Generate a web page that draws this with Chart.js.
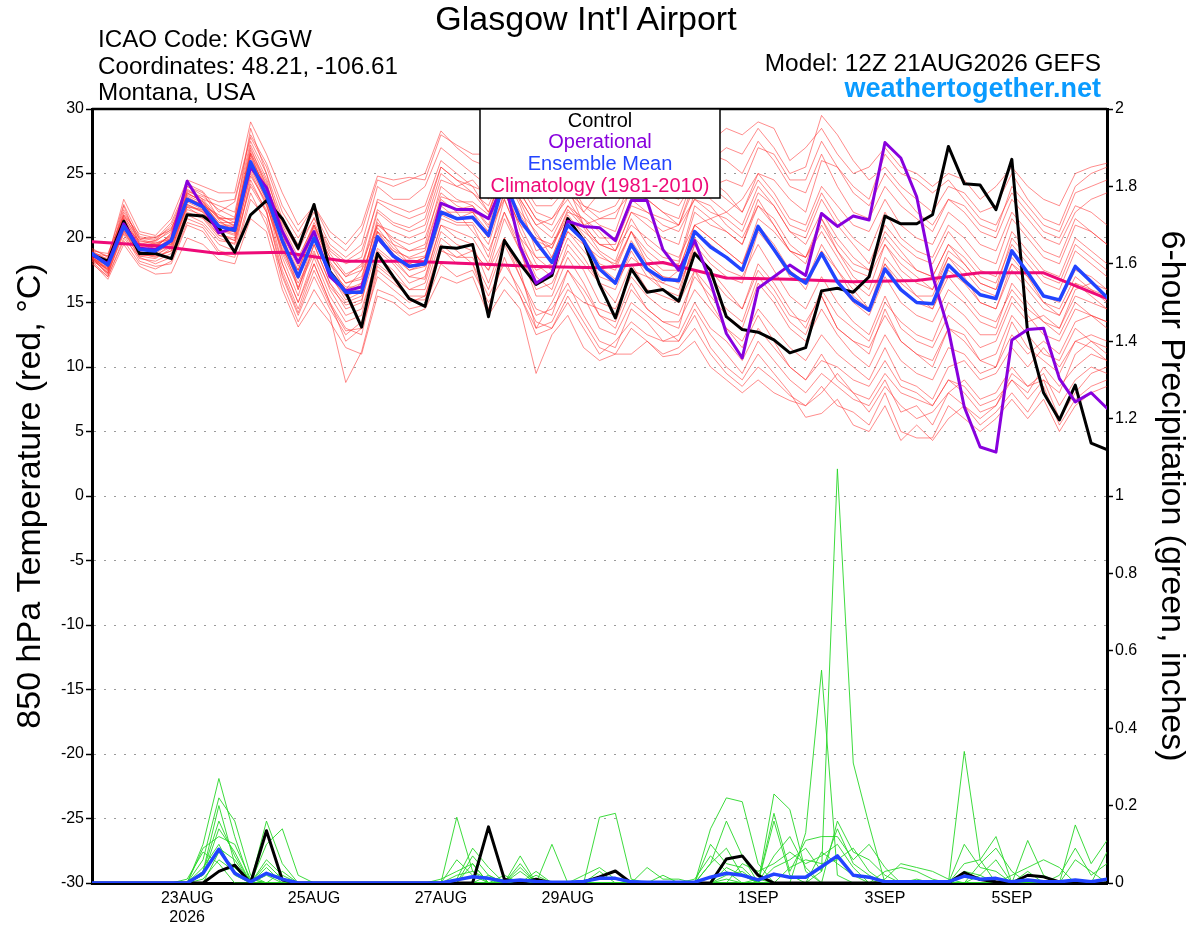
<!DOCTYPE html>
<html>
<head>
<meta charset="utf-8">
<title>Glasgow Int'l Airport - GEFS</title>
<script src="https://cdn.jsdelivr.net/npm/chart.js@4.4.1/dist/chart.umd.min.js"></script>
<style>
  body { margin: 0; background: #fff; font-family: "Liberation Sans", Arial, sans-serif; }
  #wrap { position: relative; width: 1200px; height: 927px; }
  #chart { position: absolute; left: 0; top: 0; }
  .t { position: absolute; white-space: nowrap; line-height: 1; color: #000; }
  #title { left: 0; width: 1172px; text-align: center; top: 1px; font-size: 34px; }
  .info { left: 98px; font-size: 24.2px; }
  .model { right: 99px; font-size: 24.4px; }
  #site { right: 99px; top: 75px; font-size: 27px; font-weight: bold; color: #0a9bff; }
</style>
</head>
<body>
<div id="wrap">
  <canvas id="chart" width="1200" height="927"></canvas>
  <div class="t" id="title">Glasgow Int'l Airport</div>
  <div class="t info" style="top:27px">ICAO Code: KGGW</div>
  <div class="t info" style="top:54px">Coordinates: 48.21, -106.61</div>
  <div class="t info" style="top:80px">Montana, USA</div>
  <div class="t model" style="top:51px">Model: 12Z 21AUG2026 GEFS</div>
  <div class="t" id="site">weathertogether.net</div>
</div>
<script>
// forecast hours from 12Z 21AUG2026, every 6 hours out to 384h
const HOURS = Array.from({ length: 65 }, (_, i) => i * 6);
const CLIMO_HOURS = [0, 24, 48, 72, 96, 120, 144, 168, 192, 216, 240, 264, 288, 312, 336, 360, 384];
const TICK_HOURS = [36, 84, 132, 180, 252, 300, 348];
const TICK_LABELS = [["23AUG", "2026"], "25AUG", "27AUG", "29AUG", "1SEP", "3SEP", "5SEP"];

// 850 hPa temperature (C)
const ensMean = [
  18.8, 17.9, 20.9, 19.1, 19.0, 19.8, 23.0, 22.4, 20.9, 20.6, 25.9, 23.3, 19.8,
  17.0, 20.0, 17.3, 15.8, 15.8, 20.1, 18.6, 17.8, 18.0, 22.0, 21.5, 21.6, 20.2,
  24.5, 21.4, 19.7, 18.1, 21.0, 19.8, 17.6, 16.5, 19.5, 17.6, 16.8, 16.7, 20.5,
  19.3, 18.5, 17.5, 20.9, 19.1, 17.3, 16.5, 18.8, 16.6, 15.2, 14.4, 17.6, 16.0,
  15.0, 14.9, 17.9, 16.7, 15.6, 15.3, 19.0, 17.3, 15.5, 15.2, 17.8, 16.6, 15.4
];
const control = [
  18.7, 18.2, 21.3, 18.8, 18.8, 18.4, 21.8, 21.7, 20.8, 18.9, 21.8, 22.9, 21.5,
  19.2, 22.6, 17.4, 15.8, 13.1, 18.8, 17.0, 15.3, 14.7, 19.3, 19.2, 19.5, 13.9,
  19.8, 18.0, 16.4, 17.1, 21.5, 19.8, 16.4, 13.8, 17.6, 15.8, 16.0, 15.1, 18.8,
  17.5, 13.9, 12.9, 12.7, 12.1, 11.1, 11.5, 15.9, 16.1, 15.8, 17.0, 21.7, 21.1,
  21.1, 21.8, 27.1, 24.2, 24.1, 22.2, 26.1, 12.6, 8.0, 5.9, 8.6, 4.1, 3.6
];
const operational = [
  18.7, 18.0, 21.1, 19.2, 19.1, 19.8, 24.4, 22.4, 20.4, 20.8, 25.5, 23.9, 20.5,
  18.1, 20.5, 17.0, 15.9, 16.2, 20.0, 18.6, 17.8, 18.0, 22.7, 22.2, 22.2, 21.5,
  24.5, 19.3, 16.5, 17.3, 21.3, 20.9, 20.8, 19.8, 22.9, 22.9, 19.1, 17.5, 19.8,
  16.6, 12.6, 10.7, 16.1, 17.0, 17.9, 17.1, 21.9, 20.9, 21.7, 21.4, 27.4, 26.2,
  23.2, 17.1, 12.9, 6.9, 3.8, 3.4, 12.1, 12.9, 13.0, 9.1, 7.3, 8.0, 6.8
];
// daily climatology (1981-2010)
const climo = [19.7, 19.4, 18.8, 18.9, 18.2, 18.2, 18.0, 17.8, 17.7, 18.1, 16.9, 16.8, 16.6, 16.7, 17.3, 17.3, 15.3];

// ensemble members, temperature
const mem01 = [18.5,17.5,21.5,19.5,19.8,20.5,23.5,22.8,21.5,21.0,27.0,24.0, 21.0,18.5,21.0,18.5,17.0,17.5,22.0,21.0,20.5,21.0,25.0,24.0, 24.5,23.0,26.0,23.5,21.5,21.0,23.5,22.0,21.0,20.5,24.0,23.0, 22.0,21.5,25.0,26.0,27.0,26.5,28.5,27.0,25.0,25.5,29.5,28.0, 26.0,24.5,25.5,24.0,23.0,22.0,24.0,23.5,22.0,22.5,25.0,23.0, 21.5,21.0,24.0,25.0,25.5];
const mem02 = [18.2,17.0,20.0,18.5,18.0,18.5,21.5,21.0,19.5,19.0,24.5,22.0, 17.5,14.5,18.0,15.0,12.0,13.0,17.0,16.0,15.0,15.5,19.0,18.5, 18.5,16.0,19.5,17.0,14.0,14.5,16.5,14.0,12.0,11.5,14.5,13.5, 12.0,12.0,14.5,12.5,11.0,9.5,12.0,10.5,9.0,8.0,9.5,8.5, 7.5,7.0,9.0,6.5,7.0,5.5,8.0,9.0,7.5,8.0,10.0,8.5, 9.5,7.0,9.0,10.0,9.5];
const mem03 = [19.0,18.0,22.5,19.5,19.5,20.0,24.0,23.5,21.5,21.5,28.5,25.0, 20.5,16.0,19.5,16.5,14.5,15.0,20.5,19.5,19.0,19.5,24.0,23.0, 22.5,21.0,24.5,20.5,18.0,17.0,20.0,18.5,16.5,15.0,18.0,16.0, 15.5,15.0,19.5,18.0,17.0,16.5,20.5,19.0,17.5,16.0,19.0,17.5, 16.0,14.5,18.5,17.0,15.5,15.5,18.5,17.0,15.0,14.5,18.0,17.0, 15.0,14.0,16.5,15.5,14.5];
const mem04 = [18.6,18.3,21.0,19.8,19.5,19.5,22.5,22.0,20.5,20.5,25.5,23.0, 19.0,17.5,20.5,18.0,16.5,17.0,21.0,20.0,19.5,20.0,23.5,22.5, 22.0,20.0,23.5,21.0,20.0,19.5,22.0,21.5,20.5,19.0,22.0,21.5, 20.5,21.0,24.5,23.0,22.0,21.0,24.0,22.5,20.5,20.0,23.0,21.0, 19.5,18.0,21.0,19.5,18.5,18.0,20.5,19.0,17.5,17.0,20.5,19.0, 17.5,17.0,20.0,19.0,18.0];
const mem05 = [18.3,17.3,20.3,18.2,17.8,18.0,21.0,20.5,18.8,18.5,23.0,21.5, 16.5,13.5,16.0,14.0,8.8,11.2,16.0,15.5,14.5,14.8,18.0,17.0, 17.5,15.0,17.0,15.5,13.0,13.5,16.0,15.0,14.5,14.0,17.5,17.0, 16.5,17.5,21.0,21.5,22.0,23.0,25.0,24.5,23.0,22.0,26.0,25.5, 24.0,23.0,26.5,25.0,24.5,23.5,24.5,23.0,21.5,21.0,23.5,22.0, 20.5,20.0,22.5,22.0,21.0];
const mem06 = [19.2,18.5,23.0,20.5,20.2,21.5,24.5,24.0,23.5,23.5,29.0,26.5, 23.5,21.0,22.5,20.0,19.0,20.5,24.5,24.0,24.5,25.0,28.3,27.0, 26.0,25.5,26.5,25.5,23.5,23.0,24.5,22.0,23.5,24.0,25.0,25.0, 24.5,24.0,26.0,27.5,28.5,28.0,29.0,28.5,26.0,27.0,28.5,26.5, 25.0,25.5,27.0,25.5,25.0,24.0,25.0,24.5,23.0,24.0,25.5,24.0, 23.0,22.5,25.0,25.5,25.8];
const mem07 = [18.8,17.8,20.5,18.8,18.5,19.0,22.0,21.5,20.0,19.5,24.0,22.0, 18.0,15.0,18.5,15.5,13.5,14.0,19.0,18.0,16.5,17.0,21.0,20.0, 19.5,16.5,20.0,17.5,13.0,15.0,17.5,15.5,13.0,12.5,15.0,14.0, 13.0,12.0,14.0,11.5,10.0,9.0,11.0,9.5,8.0,6.1,6.4,7.5, 5.5,5.0,7.0,4.3,5.5,4.3,6.0,7.0,5.5,6.5,8.0,6.5, 8.5,5.5,7.5,8.5,9.0];
const mem08 = [18.4,17.6,21.5,19.0,19.2,20.0,23.5,22.8,21.0,20.8,26.5,23.5, 20.0,17.0,20.0,17.5,16.0,16.5,21.5,19.5,18.0,18.5,22.0,21.5, 21.5,20.5,24.0,22.0,20.5,18.5,21.5,20.0,18.0,17.5,20.5,18.0, 17.0,16.5,19.0,17.5,16.0,14.5,17.5,16.0,14.0,13.5,15.5,13.0, 12.0,11.5,14.0,12.0,11.0,10.5,13.0,12.0,10.5,11.0,14.0,12.5, 11.0,10.5,13.0,12.0,11.0];
const mem09 = [18.7,18.0,22.0,20.0,19.8,21.0,23.8,23.0,22.5,22.0,27.5,25.0, 21.5,19.5,21.5,19.0,18.0,18.5,23.0,22.5,22.0,22.5,26.0,25.0, 24.0,23.5,25.5,24.0,22.0,21.5,23.0,21.0,19.5,19.0,21.0,20.0, 19.0,18.5,21.0,20.0,19.0,18.0,21.5,20.5,19.0,18.5,21.5,19.5, 18.0,17.5,20.5,19.0,17.5,17.0,19.5,18.5,17.0,16.5,19.5,18.0, 16.5,16.0,19.0,18.0,17.0];
const mem10 = [18.1,16.8,19.5,17.8,17.2,17.3,20.0,19.5,18.3,18.0,21.5,20.5, 16.0,13.1,15.0,13.5,11.5,11.0,15.5,15.0,14.0,14.5,17.0,16.5, 17.0,14.0,16.0,14.5,9.5,12.5,14.0,11.5,10.5,11.0,11.0,12.0, 10.8,11.0,12.0,10.0,9.0,8.0,9.0,8.0,7.4,7.0,8.0,9.5, 8.0,7.5,9.5,8.0,7.5,7.0,9.0,8.5,7.0,7.5,9.0,8.0, 10.0,8.5,10.0,11.0,10.5];
const mem11 = [19.0,18.8,21.8,20.3,20.0,20.8,23.2,22.5,21.8,21.2,26.0,24.0, 20.5,18.0,21.0,18.0,16.0,17.5,20.0,19.0,18.5,19.0,23.0,22.0, 20.5,19.0,22.0,19.5,17.5,18.0,20.5,19.5,18.5,18.0,20.5,19.0, 18.0,18.0,22.0,21.0,20.5,19.5,22.5,21.5,19.5,18.5,20.5,18.5, 16.5,15.5,18.0,16.0,15.0,14.5,17.0,15.5,14.0,13.5,16.0,14.5, 13.5,12.5,15.0,14.0,13.0];
const mem12 = [18.5,17.2,20.8,18.6,18.4,19.2,22.2,21.8,20.2,19.8,25.0,22.5, 19.0,16.5,19.0,16.0,14.0,14.5,18.5,17.5,16.0,16.5,20.5,19.5, 19.0,17.5,21.5,19.0,16.0,16.5,19.0,17.5,15.0,14.5,17.0,15.5, 14.5,14.0,17.0,15.5,14.0,13.0,16.5,15.0,13.0,12.0,14.5,12.5, 11.0,10.0,12.5,10.5,9.5,9.0,11.5,11.0,9.5,10.0,12.5,11.0, 12.0,11.0,13.5,14.0,13.5];
const mem13 = [18.9,18.2,22.2,19.9,20.1,20.6,24.2,23.6,22.0,22.8,27.8,25.5, 22.0,20.0,22.0,19.5,18.5,19.5,24.0,23.0,23.0,24.0,27.0,26.0, 25.0,24.0,27.0,26.0,24.0,24.0,24.5,22.5,22.0,22.5,24.5,24.0, 23.0,22.5,24.5,24.0,23.0,22.0,25.0,23.5,21.5,21.0,24.0,22.5, 21.0,20.5,23.0,21.0,20.0,19.5,22.0,21.0,19.5,19.0,22.0,20.5, 19.0,18.5,21.5,20.5,19.5];
const mem14 = [18.6,17.4,21.2,19.2,18.8,19.6,22.8,22.2,20.6,20.2,25.8,23.2, 18.5,15.5,19.5,16.5,15.0,15.5,20.5,18.5,17.0,17.5,21.5,21.0, 21.0,18.5,23.0,20.0,17.0,16.0,19.5,18.0,16.5,16.0,19.0,17.0, 16.0,15.5,20.0,18.5,17.5,17.0,19.5,17.5,15.5,14.5,17.0,15.0, 13.5,12.5,15.5,13.0,12.0,11.5,14.0,13.0,11.5,12.0,15.0,13.5, 14.0,13.0,16.0,16.5,16.0];
const mem15 = [18.3,17.7,20.6,18.9,19.4,20.2,23.0,22.6,21.2,20.8,26.2,23.8, 19.5,16.0,20.0,17.0,15.5,16.0,20.0,18.5,17.5,18.0,22.5,21.5, 22.0,21.5,25.0,23.0,21.0,20.0,22.5,21.0,19.5,19.0,22.0,21.0, 20.0,19.5,23.5,24.0,24.5,24.0,27.0,26.5,24.5,24.5,27.5,25.5, 23.5,22.5,25.0,23.5,22.0,21.0,23.0,22.0,20.5,20.0,23.0,21.5, 20.0,19.5,22.0,23.0,23.5];
const mem16 = [18.8,18.4,21.6,19.6,19.0,19.4,22.4,22.2,21.0,21.0,26.8,24.4, 20.0,17.5,21.0,18.5,17.0,18.0,21.0,20.5,20.0,20.5,24.5,24.0, 23.5,22.0,25.0,22.5,19.0,19.5,21.5,19.5,17.0,16.5,18.5,17.5, 16.0,15.0,17.5,15.0,13.0,12.0,14.5,13.0,11.5,10.5,12.5,11.0, 10.0,9.0,11.5,9.0,8.5,7.5,10.0,10.5,9.0,9.5,11.5,10.0, 11.5,10.0,12.0,12.5,12.0];
const mem17 = [18.4,17.9,20.9,19.3,19.6,19.9,23.4,22.9,21.4,20.4,26.4,23.6, 19.5,17.5,20.5,17.5,15.5,16.5,20.5,19.0,18.0,18.5,22.0,22.0, 22.0,20.5,23.0,20.0,18.5,18.5,21.5,20.5,19.5,19.5,22.5,22.0, 21.0,20.5,23.0,22.0,21.5,20.5,23.5,22.5,20.5,19.5,22.0,20.0, 18.5,17.5,20.0,18.5,17.5,17.0,19.5,18.0,16.5,16.0,18.5,17.0, 15.5,15.0,17.5,17.0,16.0];
const mem18 = [18.7,17.5,21.4,18.9,18.6,19.0,22.6,22.0,20.4,19.8,24.8,22.8, 18.0,15.0,18.0,15.0,13.0,12.5,17.5,16.5,15.5,15.5,19.5,18.5, 19.0,17.5,20.0,17.0,14.5,14.0,17.5,16.0,14.0,13.0,16.0,14.5, 13.5,13.5,16.0,14.5,13.0,11.5,14.0,12.0,10.0,9.0,10.5,10.0, 9.0,8.5,10.5,8.5,8.0,7.0,9.0,8.0,6.5,7.0,9.5,8.5, 9.0,8.0,11.0,12.0,11.5];
const mem19 = [19.1,18.6,22.6,20.1,19.9,21.2,24.0,23.3,22.8,23.0,28.0,25.8, 22.5,20.5,22.5,20.5,19.5,21.0,24.8,24.5,24.7,24.5,28.0,27.2, 26.5,26.5,26.0,24.5,22.5,22.5,24.0,21.0,21.5,22.0,23.5,23.0, 22.0,21.0,23.0,22.5,21.0,20.0,22.5,21.0,19.0,18.5,21.0,19.0, 17.5,17.0,19.5,17.5,16.5,16.0,18.5,17.5,16.0,15.5,18.0,16.5, 15.0,14.5,17.0,16.0,15.0];
const mem20 = [18.5,17.1,20.6,18.4,18.2,18.8,21.8,21.2,19.8,19.6,24.2,22.2, 17.0,14.0,17.0,14.5,12.5,13.5,18.0,17.0,16.0,16.0,20.0,19.0, 18.0,14.5,18.5,15.5,12.5,13.0,15.0,13.0,11.0,12.0,13.5,12.5, 12.0,12.5,15.0,13.0,12.0,10.5,13.0,11.5,10.0,9.0,11.0,9.0, 8.0,6.5,8.5,7.0,6.0,6.5,8.0,7.0,6.0,7.0,9.0,7.5, 9.0,6.0,8.0,9.5,10.0];
const mem21 = [18.9,18.1,21.1,19.4,19.3,20.3,23.3,22.7,21.2,21.2,26.6,23.9, 20.2,17.8,20.8,18.2,16.5,16.8,21.2,19.8,19.0,19.2,23.2,22.8, 22.8,21.8,25.5,22.8,20.2,19.2,22.2,20.8,19.0,18.2,21.5,19.5, 18.5,18.2,22.5,21.5,20.5,19.5,23.0,21.0,19.0,18.0,21.5,19.0, 17.0,16.0,19.5,18.0,17.0,16.0,19.0,18.0,16.5,16.0,20.0,18.5, 17.0,16.5,19.5,18.5,17.5];
const mem22 = [18.2,17.6,20.4,18.6,18.7,19.3,22.4,21.6,20.2,20.0,25.2,22.6, 18.8,16.2,18.8,16.2,14.8,15.2,19.2,18.2,17.0,16.8,21.0,20.5, 20.0,18.0,22.0,19.0,15.5,15.5,18.5,16.5,14.0,13.5,16.5,14.5, 13.5,13.0,17.5,16.0,14.5,13.5,17.0,15.5,13.5,12.5,15.5,13.0, 12.0,11.0,14.5,12.0,11.0,10.0,13.0,12.5,10.5,10.0,13.5,11.5, 10.5,9.5,12.0,11.5,10.5];
const mem23 = [18.6,17.8,21.8,19.7,19.7,20.7,23.6,23.2,22.2,21.6,27.2,24.6, 21.2,19.0,21.6,19.2,18.2,19.0,22.8,22.0,21.5,22.0,25.5,24.5, 23.5,22.5,25.5,23.0,21.0,21.5,23.5,22.5,21.5,21.5,24.5,24.0, 23.5,23.0,26.0,26.5,26.0,25.0,27.5,26.0,24.0,23.5,26.5,24.0, 22.0,21.5,24.0,22.5,21.5,20.5,23.0,22.5,21.0,20.5,24.0,22.5, 21.0,20.5,23.5,24.0,24.5];
const mem24 = [18.4,17.3,21.0,18.7,18.6,19.5,22.6,22.1,20.7,20.3,25.4,22.9, 19.2,16.8,19.8,17.2,15.2,15.8,20.2,18.8,17.5,17.8,21.8,21.2, 21.2,19.5,23.5,21.0,18.5,17.5,20.5,19.0,17.5,16.5,19.5,17.5, 16.5,16.0,19.5,17.0,15.5,14.5,18.0,16.5,14.5,13.0,16.0,14.0, 13.0,12.0,15.0,13.5,12.5,12.0,15.0,14.0,12.5,12.5,15.5,14.0, 12.5,12.0,14.5,14.0,13.5];
const mem25 = [18.0,17.0,19.8,18.0,17.6,18.2,21.2,20.8,19.0,18.7,23.5,21.0, 17.2,14.2,17.5,14.8,12.8,13.0,17.8,16.8,15.2,15.2,19.2,18.0, 18.0,15.5,18.0,16.0,13.5,13.0,15.5,13.5,11.5,11.0,13.0,12.0, 11.0,11.5,13.0,11.0,9.5,8.5,10.0,9.0,7.8,7.0,8.5,7.0, 6.5,5.5,8.0,5.0,4.5,4.5,7.0,6.0,5.0,6.0,7.5,6.0, 7.5,5.0,7.0,8.0,8.5];
const mem26 = [18.8,18.6,21.7,19.9,19.6,20.1,23.1,22.6,21.6,21.4,26.6,24.2, 20.8,18.2,21.2,18.8,17.2,17.8,22.2,21.2,20.8,21.5,25.5,24.5, 24.0,22.0,25.5,23.5,21.5,20.5,22.5,21.5,20.0,20.0,23.0,22.0, 21.5,21.0,24.0,24.5,23.5,22.0,24.5,23.0,21.0,20.5,23.5,21.5, 20.0,19.0,22.0,20.0,19.0,18.5,21.0,20.0,18.5,18.0,21.5,20.0, 18.5,18.0,21.0,20.5,19.5];
const mem27 = [18.5,17.7,20.8,19.1,19.0,19.7,22.9,22.4,20.9,20.5,25.8,23.1, 19.6,17.2,20.2,17.3,15.9,15.9,20.0,18.6,17.8,18.1,22.1,21.6, 21.5,20.0,24.5,21.5,19.5,18.0,21.0,19.8,17.8,16.8,19.8,18.0, 17.0,16.8,20.5,19.5,18.5,17.5,21.0,19.0,17.0,16.5,19.0,16.5, 15.0,14.0,17.0,15.0,14.0,13.5,16.0,15.0,13.5,13.0,16.5,15.0, 13.5,13.0,15.5,15.0,14.5];
const mem28 = [19.0,18.3,21.3,19.5,19.2,20.4,23.7,23.0,21.6,20.9,26.0,23.4, 19.8,17.0,20.0,17.5,16.2,16.2,20.8,19.2,18.4,18.6,22.6,22.2, 22.5,20.8,24.0,21.8,19.8,19.2,21.8,20.2,18.8,17.8,20.5,18.5, 17.5,17.5,21.0,20.0,19.0,18.0,21.0,19.5,17.5,16.5,19.5,17.5, 15.5,14.5,18.0,16.5,15.5,14.5,17.5,16.5,15.0,14.5,17.5,16.0, 14.5,14.0,16.5,16.0,15.5];
const tempMembers = [mem01, mem02, mem03, mem04, mem05, mem06, mem07, mem08, mem09, mem10,
                     mem11, mem12, mem13, mem14, mem15, mem16, mem17, mem18, mem19, mem20,
                     mem21, mem22, mem23, mem24, mem25, mem26, mem27, mem28];

// 6-hour precipitation (inches)
const precipMean = [
  0, 0, 0, 0, 0, 0, 0, 0.025, 0.087, 0.025, 0.003, 0.025, 0.01,
  0, 0, 0, 0, 0, 0, 0, 0, 0, 0, 0.008, 0.016, 0.012,
  0.004, 0.008, 0.004, 0.002, 0.002, 0.004, 0.012, 0.012, 0.003, 0.002, 0.002, 0.002, 0.002,
  0.015, 0.025, 0.02, 0.008, 0.023, 0.015, 0.015, 0.042, 0.07, 0.02, 0.015, 0.003, 0.003,
  0.003, 0.003, 0.003, 0.018, 0.01, 0.012, 0.003, 0.008, 0.003, 0.003, 0.008, 0.003, 0.01
];
const precipControl = [
  0, 0, 0, 0, 0, 0, 0, 0, 0.03, 0.046, 0, 0.135, 0.008,
  0, 0, 0, 0, 0, 0, 0, 0, 0, 0, 0, 0, 0.145,
  0.01, 0, 0.01, 0, 0, 0.003, 0.016, 0.031, 0, 0, 0, 0, 0,
  0, 0.062, 0.07, 0.02, 0, 0, 0, 0, 0, 0, 0, 0, 0,
  0, 0, 0, 0.027, 0.009, 0.003, 0, 0.02, 0.016, 0.003, 0, 0, 0
];
const pm01 = [0,0,0,0,0,0,0,0.10,0.27,0.12,0,0,0, 0,0,0,0,0,0,0,0,0,0,0,0.05,0, 0,0,0,0,0,0,0,0,0,0,0,0,0, 0.14,0.22,0.21,0.05,0,0,0,0.03,1.07,0.31,0.15,0,0, 0,0,0,0,0,0,0,0,0,0,0,0,0];
const pm02 = [0,0,0,0,0,0,0,0.06,0.22,0.16,0.02,0,0, 0,0,0,0,0,0,0,0,0,0,0.17,0.03,0, 0,0,0,0,0,0,0,0,0,0,0,0,0, 0,0,0,0,0.23,0.19,0.03,0,0,0,0,0,0, 0,0,0,0,0,0,0,0,0,0,0,0,0];
const pm03 = [0,0,0,0,0,0,0,0.03,0.20,0.05,0,0.16,0.05, 0,0,0,0,0,0,0,0,0,0,0,0,0, 0,0,0,0,0,0,0.17,0.18,0.01,0,0,0,0, 0,0,0,0,0,0,0.13,0.55,0.02,0,0,0,0, 0,0,0,0.05,0.06,0.12,0,0,0,0,0,0,0];
const pm04 = [0,0,0,0,0,0,0,0.03,0.16,0.07,0,0.10,0.14, 0.02,0,0,0,0,0,0,0,0,0,0,0,0, 0,0.07,0,0.10,0,0,0,0,0,0,0,0,0, 0.05,0.16,0.07,0,0,0,0,0,0,0,0,0,0, 0,0,0,0.34,0.06,0,0,0,0,0,0,0,0];
const pm05 = [0,0,0,0,0,0,0,0.09,0.12,0.10,0.01,0,0, 0,0,0,0,0,0,0,0,0,0,0.01,0.09,0.04, 0,0,0,0,0,0,0,0,0,0,0,0,0, 0,0,0,0,0.18,0.03,0.11,0.12,0.12,0.06,0.10,0.04,0, 0,0,0,0,0,0,0,0.11,0.02,0,0,0,0];
const pm06 = [0,0,0,0,0,0,0,0.02,0.09,0.06,0,0.05,0.01, 0,0,0,0,0,0,0,0,0,0,0,0.07,0.02, 0,0.04,0,0,0,0,0,0,0,0,0,0,0, 0.10,0.05,0.04,0,0,0,0,0,0,0,0,0.03,0.04, 0.03,0.01,0,0,0,0,0,0,0,0,0.15,0.05,0.11];
const pm07 = [0,0,0,0,0,0,0,0.01,0.06,0.03,0,0.04,0, 0,0,0,0,0,0,0,0,0,0,0,0,0, 0.01,0,0.02,0,0,0,0,0,0,0.04,0.01,0.01,0, 0,0,0.05,0.03,0.05,0.08,0.05,0.07,0.10,0.04,0,0,0, 0,0,0,0.03,0.02,0.06,0,0.03,0,0,0,0,0.08];
const pm08 = [0,0,0,0,0,0,0,0.04,0.10,0.02,0,0.02,0, 0,0,0,0,0,0,0,0,0,0.01,0.03,0.05,0, 0,0,0.03,0,0,0,0,0,0,0,0,0,0, 0,0.02,0.03,0,0.04,0.06,0.09,0.03,0.14,0.05,0.02,0,0, 0,0,0,0.10,0.04,0.03,0,0,0,0,0,0,0];
const pm09 = [0,0,0,0,0,0,0,0.02,0.14,0.08,0,0,0, 0,0,0,0,0,0,0,0,0,0,0.02,0.03,0.01, 0,0.03,0,0,0,0.02,0.04,0.01,0,0,0.02,0,0.01, 0.07,0.03,0,0.01,0,0.04,0.06,0.05,0.06,0.09,0.03,0,0, 0.01,0,0,0,0,0,0.02,0.04,0.06,0.04,0,0,0];
const pm10 = [0,0,0,0,0,0,0.01,0.08,0.05,0,0,0,0.03, 0,0,0,0,0,0,0,0,0,0,0,0,0, 0.02,0,0.01,0,0,0,0,0,0,0,0,0,0, 0,0.04,0.02,0,0.16,0.02,0,0,0,0,0,0.01,0.05, 0.04,0.03,0.01,0,0.02,0,0,0,0,0,0.06,0.03,0];
const pm11 = [0,0,0,0,0,0,0,0,0.08,0.04,0.01,0,0, 0,0,0,0,0,0,0,0,0,0,0.06,0.02,0, 0,0,0,0,0,0,0.03,0,0,0,0,0,0, 0.05,0.09,0.02,0,0,0,0,0.08,0.05,0.02,0,0,0, 0,0,0,0,0,0,0,0,0,0.02,0.09,0.02,0.05];
const pm12 = [0,0,0,0,0,0,0,0,0.03,0.04,0,0.06,0.02, 0,0,0,0,0,0,0,0,0,0,0,0,0.02, 0,0.05,0,0,0,0,0,0,0,0,0,0,0, 0,0.01,0,0,0.07,0.12,0.04,0,0.16,0.08,0.06,0.02,0, 0,0,0,0,0.05,0.09,0.03,0,0,0,0,0,0];
const precipMembers = [pm01, pm02, pm03, pm04, pm05, pm06, pm07, pm08, pm09, pm10, pm11, pm12];

const RED = "rgba(255, 45, 45, 0.55)";
const GREEN = "rgba(40, 215, 40, 0.9)";
const BLACK = "#000000";
const PURPLE = "#8800dd";
const BLUE = "#2244ff";
const PINK = "#ee0a78";

function toPoints(values, xs) {
  return values.map((v, i) => ({ x: xs[i], y: v }));
}

function thinLine(values, color, axis) {
  return {
    data: toPoints(values, HOURS),
    yAxisID: axis,
    borderColor: color,
    borderWidth: 1,
    order: axis === "y" ? 6 : 5,
  };
}

function thickLine(values, xs, color, axis, order, width) {
  return {
    data: toPoints(values, xs),
    yAxisID: axis,
    borderColor: color,
    borderWidth: width || 3,
    borderJoinStyle: "round",
    borderCapStyle: "round",
    order: order,
  };
}

const datasets = [];
tempMembers.forEach((m) => datasets.push(thinLine(m, RED, "y")));
precipMembers.forEach((m) => datasets.push(thinLine(m, GREEN, "y2")));
datasets.push(thickLine(climo, CLIMO_HOURS, PINK, "y", 4, 3));
datasets.push(thickLine(control, HOURS, BLACK, "y", 3, 3));
datasets.push(thickLine(precipControl, HOURS, BLACK, "y2", 3, 3));
datasets.push(thickLine(operational, HOURS, PURPLE, "y", 2, 3));
datasets.push(thickLine(ensMean, HOURS, BLUE, "y", 1, 3.5));
datasets.push(thickLine(precipMean, HOURS, BLUE, "y2", 1, 3.5));

// top frame line and the boxed legend that sits over the lines
const framePlugin = {
  id: "frame",
  afterDraw(chart) {
    const { ctx, chartArea } = chart;
    ctx.save();
    ctx.strokeStyle = "#000";
    ctx.lineWidth = 2.5;
    ctx.beginPath();
    ctx.moveTo(chartArea.left, chartArea.top);
    ctx.lineTo(chartArea.right, chartArea.top);
    ctx.stroke();

    const bx = chartArea.left + 388, by = chartArea.top, bw = 240, bh = 89;
    ctx.fillStyle = "#fff";
    ctx.fillRect(bx, by, bw, bh);
    ctx.lineWidth = 1.5;
    ctx.strokeRect(bx, by, bw, bh);

    const items = [
      ["Control", BLACK],
      ["Operational", PURPLE],
      ["Ensemble Mean", BLUE],
      ["Climatology (1981-2010)", PINK],
    ];
    ctx.font = '20px "Liberation Sans", Arial, sans-serif';
    ctx.textAlign = "center";
    ctx.textBaseline = "middle";
    items.forEach((it, i) => {
      ctx.fillStyle = it[1];
      ctx.fillText(it[0], bx + bw / 2, by + 12 + i * 21.7);
    });
    ctx.restore();
  },
};

Chart.defaults.font.family = '"Liberation Sans", Arial, sans-serif';
Chart.defaults.color = "#000";

new Chart(document.getElementById("chart"), {
  type: "line",
  data: { datasets: datasets },
  options: {
    responsive: false,
    animation: false,
    devicePixelRatio: 1,
    elements: { point: { radius: 0 }, line: { tension: 0 } },
    layout: { padding: { top: 109, left: 0, right: 0, bottom: 0 } },
    plugins: { legend: { display: false }, tooltip: { enabled: false }, title: { display: false } },
    scales: {
      x: {
        type: "linear",
        min: 0,
        max: 384,
        grid: { display: false, drawTicks: false },
        border: { display: true, color: "#000", width: 3 },
        ticks: {
          font: { size: 16 },
          padding: 6,
          maxRotation: 0,
          autoSkip: false,
          callback: (v) => {
            const k = TICK_HOURS.indexOf(v);
            return k >= 0 ? TICK_LABELS[k] : "";
          },
        },
        afterBuildTicks: (s) => { s.ticks = TICK_HOURS.map((v) => ({ value: v })); },
        afterFit: (s) => { s.height = 44; },
      },
      y: {
        position: "left",
        min: -30,
        max: 30,
        grid: { color: "#9a9a9a", lineWidth: 1, tickLength: 6, tickColor: "#000", tickWidth: 1.5, tickBorderDash: [] },
        border: { display: true, color: "#000", width: 3, dash: [2, 8] },
        ticks: { stepSize: 5, font: { size: 16 }, padding: 2 },
        title: { display: true, text: "850 hPa Temperature (red, \u00B0C)", font: { size: 34 }, padding: { top: 10 } },
        afterFit: (s) => { s.width = 92; },
      },
      y2: {
        position: "right",
        min: 0,
        max: 2,
        grid: { drawOnChartArea: false, tickLength: 6, tickColor: "#000", tickWidth: 1.5 },
        border: { display: true, color: "#000", width: 3 },
        ticks: { stepSize: 0.2, font: { size: 16 }, padding: 2, callback: (v) => String(Math.round(v * 10) / 10) },
        title: { display: true, text: "6-hour Precipitation (green, inches)", font: { size: 34 }, padding: { top: 8 } },
        afterFit: (s) => { s.width = 93; },
      },
    },
  },
  plugins: [framePlugin],
});
</script>
</body>
</html>
